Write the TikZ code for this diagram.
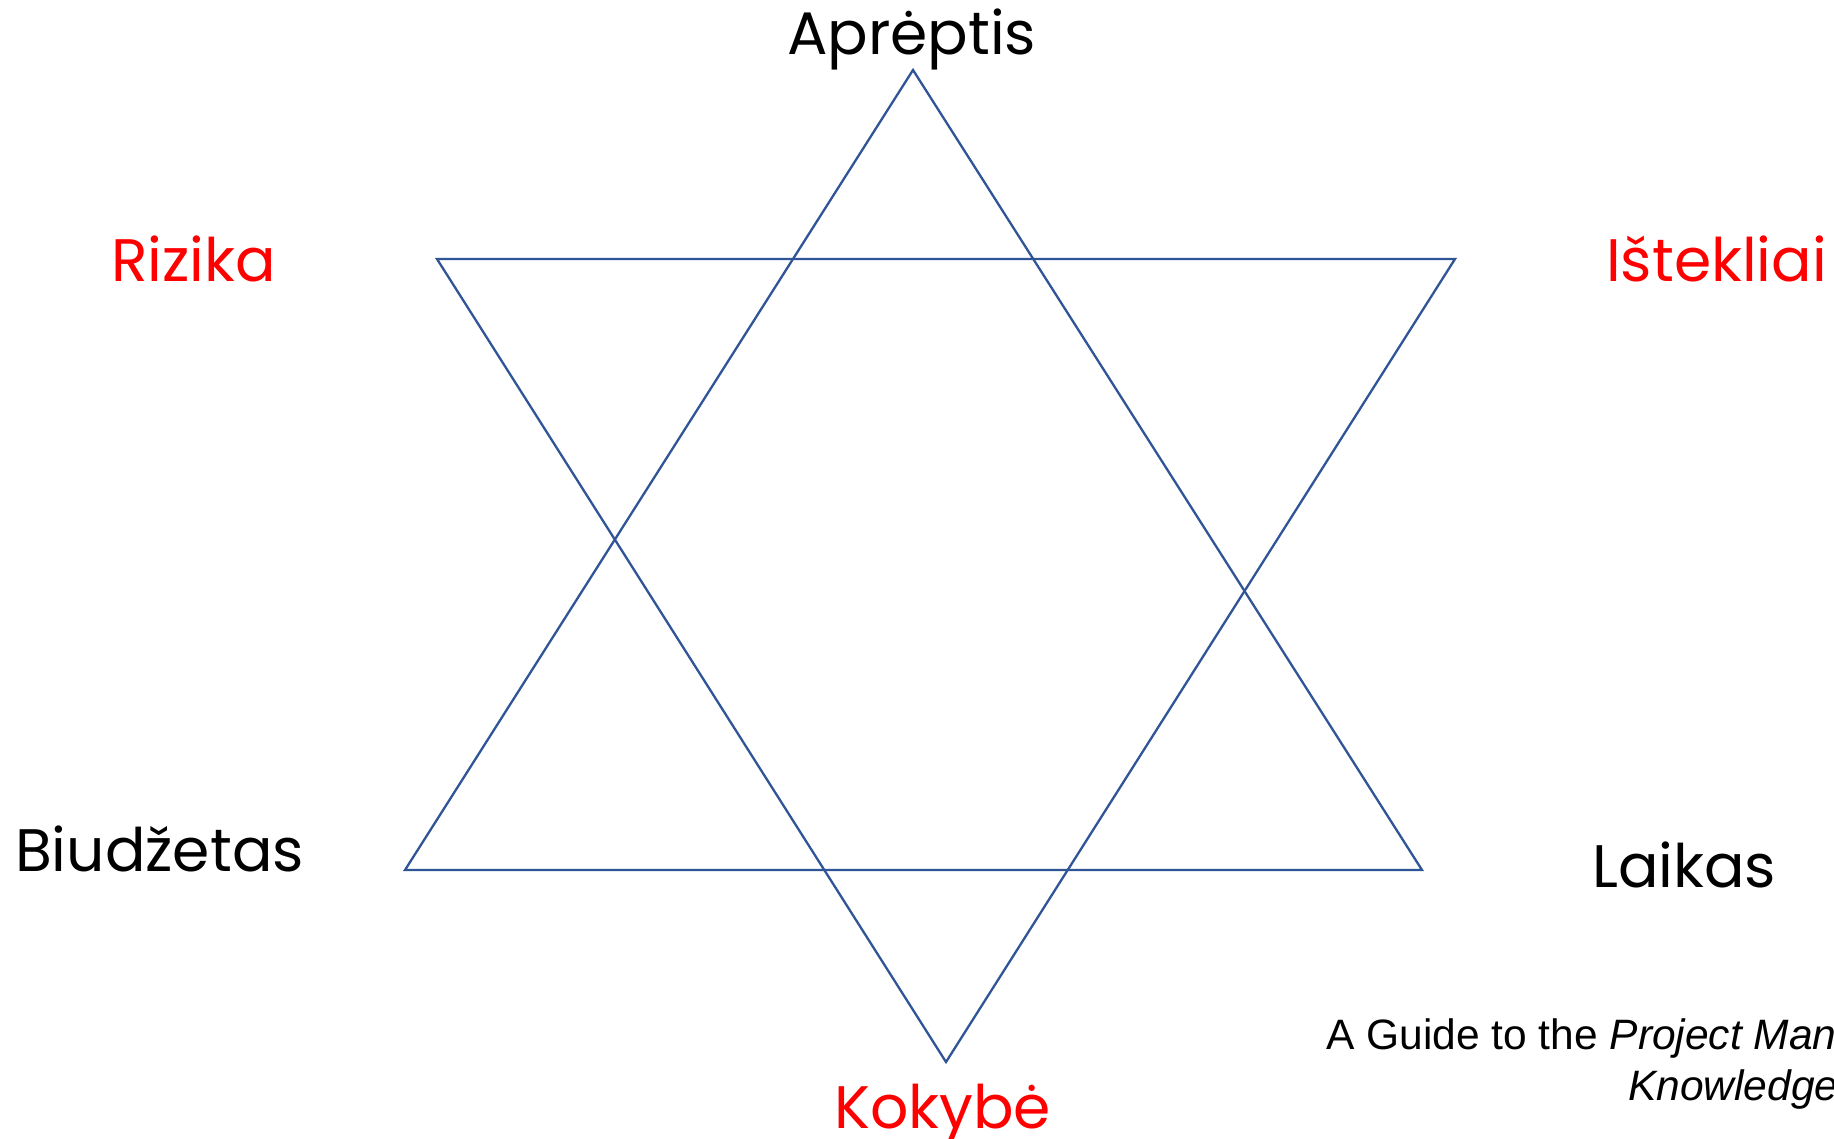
\documentclass[tikz,border=0pt]{standalone}
\usepackage{fontspec}
\setmainfont{Poppins}
\newfontfamily\guidefont{Liberation Sans}
\definecolor{starblue}{HTML}{2F5597}
\definecolor{lblred}{HTML}{FF0000}
\tikzset{
  starline/.style={draw=starblue, line width=2.3pt, line join=miter},
  lbl/.style={inner sep=0pt, anchor=base west, font=\fontsize{60}{72}\selectfont},
  redlbl/.style={lbl, text=lblred},
  guide/.style={inner sep=0pt, anchor=base west, font=\guidefont\fontsize{42.5}{51}\selectfont}
}
\begin{document}
\begin{tikzpicture}[x=1pt,y=-1pt]
\useasboundingbox (0,0) rectangle (1834,1139);
\clip (0,0) rectangle (1834,1139);
% upward triangle
\coordinate (uA) at (913,70);
\coordinate (uL) at (405,870);
\coordinate (uR) at (1422,870);
% downward triangle
\coordinate (dL) at (437,259);
\coordinate (dR) at (1455,259);
\coordinate (dB) at (946,1062);
\draw[starline] (uA) -- (uL) -- (uR) -- cycle;
\draw[starline] (dL) -- (dR) -- (dB) -- cycle;
% labels
\node[lbl] (apreptis) at (787,55) {Aprėptis};
\node[redlbl] (rizika) at (111,282) {Rizika};
\node[redlbl] (istekliai) at (1606,282) {Ištekliai};
\node[lbl] (biudzetas) at (15,871) {Biudžetas};
\node[lbl] (laikas) at (1592,887) {Laikas};
\node[redlbl] (kokybe) at (834,1128) {Kokybė};
\node[guide] (guide1) at (1326,1049) {A Guide to the \textit{Project Management}};
\node[guide] (guide2) at (1628,1100) {\textit{Knowledge}};
\end{tikzpicture}
\end{document}
